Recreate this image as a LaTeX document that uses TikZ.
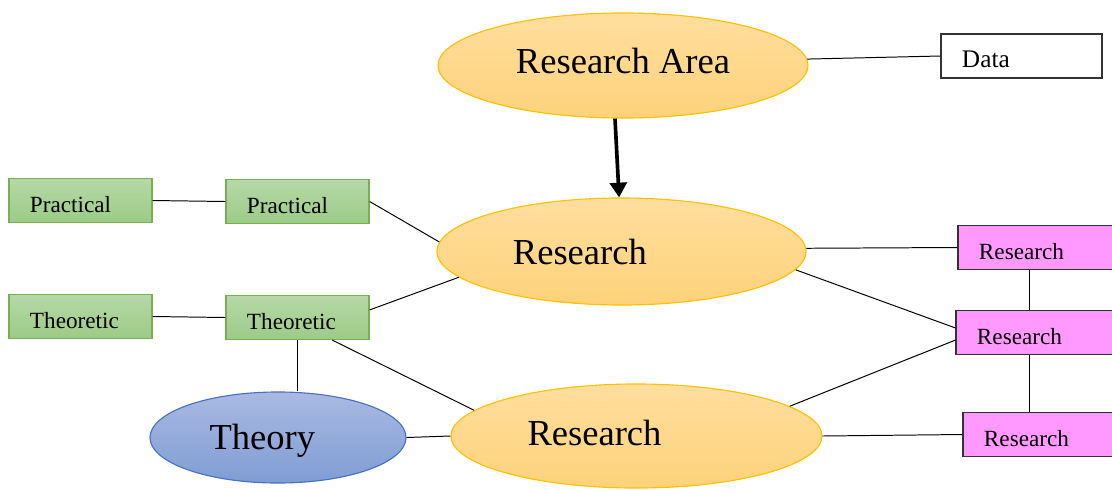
\documentclass[tikz,border=0pt]{standalone}
\usepackage{fontspec}
\setmainfont{Liberation Serif}
\usepackage{tikz}
\usetikzlibrary{shapes.geometric,arrows.meta}
\usepackage{xcolor}
\definecolor{Gold}{HTML}{FFC000}
\definecolor{GoldTop}{HTML}{FFDE9E}
\definecolor{GoldBot}{HTML}{FDD27A}
\definecolor{Leaf}{HTML}{76B04F}
\definecolor{LeafTop}{HTML}{B6D8A8}
\definecolor{LeafBot}{HTML}{9CCB86}
\definecolor{Steel}{HTML}{4472C4}
\definecolor{SteelTop}{HTML}{AAB9E2}
\definecolor{SteelBot}{HTML}{7F9DD3}
\definecolor{Orchid}{HTML}{FF99FF}
\newcommand{\bigtxt}{\fontsize{26}{30}\selectfont}
\newcommand{\smltxt}{\fontsize{16.5}{19}\selectfont}

\tikzset{
  oval/.style={ellipse,draw=Gold,line width=0.8pt,top color=GoldTop,bottom color=GoldBot,inner sep=0pt},
  theorie/.style={ellipse,draw=Steel,line width=0.8pt,top color=SteelTop,bottom color=SteelBot,inner sep=0pt},
  inner/.style={font=\bigtxt,inner sep=0pt},
  tag/.style={rectangle,font=\smltxt,align=left,minimum height=1.1cm,inner xsep=0.525cm,inner ysep=0pt,text height=17pt,text depth=0pt},
  greenbox/.style={tag,draw=Leaf,line width=0.9pt,top color=LeafTop,bottom color=LeafBot,text width=2.525cm},
  pinkbox/.style={tag,draw=black!80,line width=0.8pt,fill=Orchid},
  link/.style={draw=black,line width=0.7pt}
}

\begin{document}
\begin{tikzpicture}[x=0.025cm,y=-0.025cm]
    \useasboundingbox (0,0) rectangle (1112,489);

    \node[oval,minimum width=9.25cm,minimum height=2.625cm,label={[inner,yshift=0.12cm]center:Research Area}] (ra) at (623,65.5) {};
    \node[oval,minimum width=9.225cm,minimum height=2.675cm,label={[inner,xshift=-1.04cm]center:Research}] (r1) at (621.5,251.5) {};
    \node[oval,minimum width=9.275cm,minimum height=2.6cm,label={[inner,xshift=-1.05cm,yshift=0.07cm]center:Research}] (r2) at (636.5,436) {};
    \node[theorie,minimum width=6.4cm,minimum height=2.275cm,label={[inner,xshift=-0.39cm,yshift=-0.08cm]center:Theory}] (theory) at (278,437.5) {};

    \node[tag,draw=black!80,line width=0.8pt,fill=white,font=\fontsize{18}{21}\selectfont,text width=2.975cm] (data) at (1021.5,56) {Data};

    \node[greenbox] (p1) at (80.5,200.5) {Practical};
    \node[greenbox] (p2) at (297.5,201.5) {Practical};
    \node[greenbox] (t1) at (80.5,316.5) {Theoretic};
    \node[greenbox] (t2) at (297.5,317.5) {Theoretic};

    \node[pinkbox,text width=3.2cm] (k1) at (1043,247.5) {Research};
    \node[pinkbox,text width=3.25cm] (k2) at (1042,332.5) {Research};
    \node[pinkbox,text width=3.075cm] (k3) at (1045.5,434.5) {Research};

    \draw[black,line width=2.6pt,-{Triangle[length=10.5pt,width=12pt]}] ([xshift=-0.2cm]ra.south) -- ([xshift=-0.06cm]r1.north);
    \draw[link] (ra.2) -- (data.west);
    \draw[link] (p1.east) -- (p2.west);
    \draw[link] (t1.east) -- (t2.west);
    \draw[link] (p2.east) -- (r1.177);
    \draw[link] (t2.6) -- (r1.189);
    \draw[link] (t2.-33) -- (r2.171);
    \draw[link] (t2.south) -- (t2.south |- theory.north);
    \draw[link] (theory.east) -- (r2.west);
    \draw[link] (r1.1) -- (k1.west);
    \draw[link] (r1.-6) -- (k2.177);
    \draw[link] (r2.11) -- (k2.185);
    \draw[link] (r2.east) -- (k3.west);
    \draw[link] ([xshift=-0.33cm]k1.south) -- ([xshift=-0.33cm]k1.south |- k2.north);
    \draw[link] ([xshift=-0.31cm]k2.south) -- ([xshift=-0.31cm]k2.south |- k3.north);
\end{tikzpicture}
\end{document}
